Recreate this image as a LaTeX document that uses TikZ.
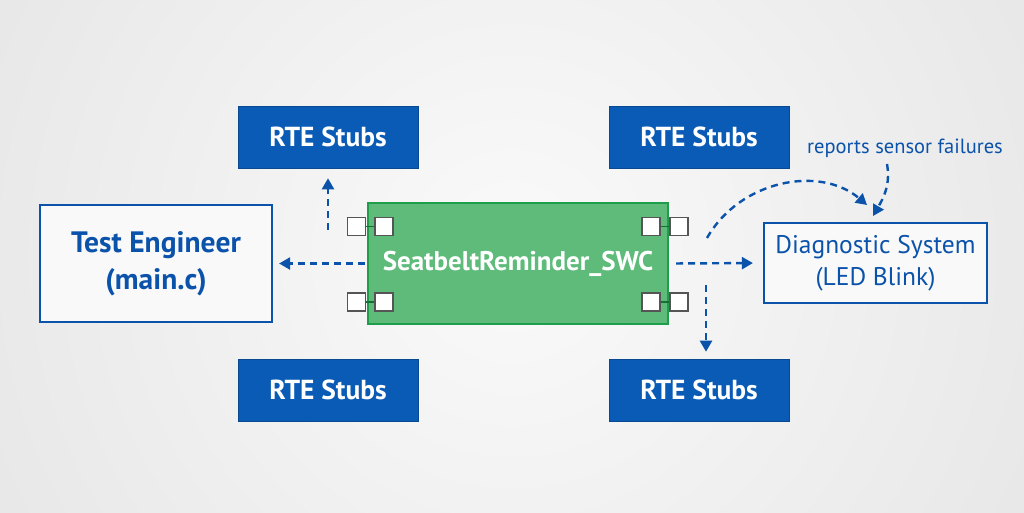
\documentclass[tikz,border=0pt]{standalone}
\usepackage{fontspec}
\setmainfont{PT Sans}
\usetikzlibrary{arrows.meta,calc}
\definecolor{stubblue}{HTML}{0A5BB5}
\definecolor{textblue}{HTML}{0B52AA}
\definecolor{swcgreen}{HTML}{5EBB7A}
\definecolor{swcedge}{HTML}{1E9E4A}
\definecolor{portgray}{HTML}{555555}

\begin{document}
\begin{tikzpicture}[x=1pt,y=-1pt]
		\tikzstyle{stub}=[fill=stubblue,draw=stubblue!80!black,line width=0.6pt,minimum width=180pt,minimum height=62pt,inner sep=0pt,text=white,font=\fontsize{27.5}{32}\selectfont\bfseries]
		\tikzstyle{actor}=[draw=textblue,line width=2.2pt,fill=white!60!gray!12,text=textblue,align=center,inner sep=0pt]
		\tikzstyle{port}=[draw=portgray,fill=white,line width=1.2pt,minimum size=18pt,inner sep=0pt]
		\tikzstyle{flow}=[draw=textblue,line width=2.4pt,dash pattern=on 7pt off 5pt,-{Triangle[width=12pt,length=11pt]}]
		\useasboundingbox (0,0) rectangle (1024,512);
		\fill[gray!18] (-2,-2) rectangle (1026,514);
		\shade[inner color=white!96!gray,outer color=gray!18] (512,256) circle (560);

		\node (rtetl) [stub] at (328,137) {RTE Stubs};
		\node (rtetr) [stub] at (699,137) {RTE Stubs};
		\node (rtebl) [stub] at (328,390) {RTE Stubs};
		\node (rtebr) [stub] at (699,390) {RTE Stubs};

		\node (tester) [actor,minimum width=232pt,minimum height=117pt,font=\fontsize{29.5}{37}\selectfont\bfseries] at (156,263.5) {Test Engineer\\(main.c)};
		\node (diag) [actor,minimum width=223pt,minimum height=80pt,font=\fontsize{25.5}{32}\selectfont] at (875.5,263) {Diagnostic System\\(LED Blink)};
		\node (swc) [fill=swcgreen,draw=swcedge,line width=2pt,minimum width=300pt,minimum height=121pt,text=white,font=\fontsize{27}{32}\selectfont\bfseries] at (518,263.5) {SeatbeltReminder\_SWC};
		\node (note) [text=textblue,font=\fontsize{20.5}{24}\selectfont] at (905,148) {reports sensor failures};

		\foreach \name/\xa/\xb/\y in {ltop/356.5/384/226.5,lbot/356.5/384/302,rtop/679/651/226.5,rbot/679/651/302}{
			\draw[swcedge!70!black,line width=1.2pt] (\xa,\y) -- (\xb,\y);
			\node (\name out) [port] at (\xa,\y) {};
			\node (\name in) [port] at (\xb,\y) {};
		}

		\coordinate (upfrom) at (328,230);
		\coordinate (downfrom) at (706,285);
		\coordinate (curvefrom) at (707,238);
		\coordinate (curveto) at (867,205);
		\coordinate (notefrom) at (887,164);
		\coordinate (noteto) at (873,216);

		\draw[flow,shorten <=2pt,shorten >=6pt] (swc.west) -- (tester.east);
		\draw[flow,shorten >=10pt] (upfrom) -- (upfrom |- rtetl.south);
		\draw[flow,shorten <=7pt,shorten >=10pt] (swc.east) -- (diag.west);
		\draw[flow,shorten >=7pt] (downfrom) -- (downfrom |- rtebr.north);
		\draw[flow] (curvefrom) .. controls (740,180) and (820,165) .. (curveto);
		\draw[flow] (notefrom) to[out=-80,in=60] (noteto);
\end{tikzpicture}
\end{document}
